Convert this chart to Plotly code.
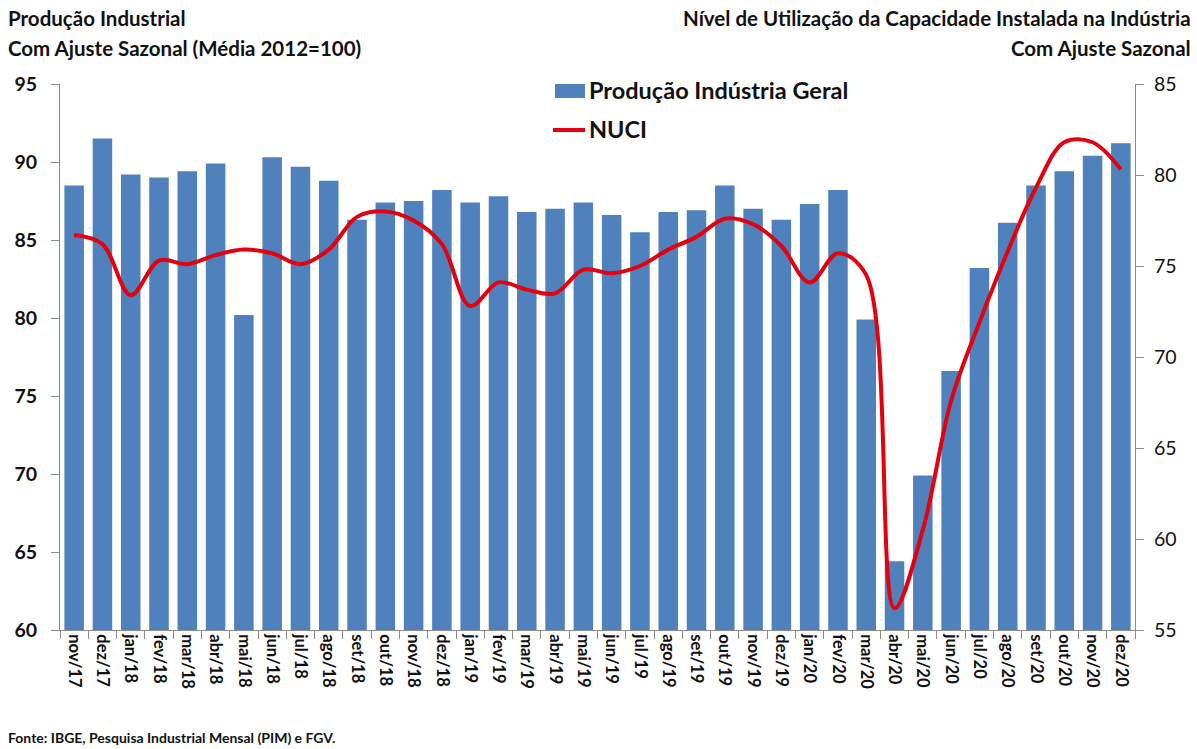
import plotly.graph_objects as go

# Months (Nov/2017 - Dez/2020)
meses = [
    "nov/17", "dez/17",
    "jan/18", "fev/18", "mar/18", "abr/18", "mai/18", "jun/18",
    "jul/18", "ago/18", "set/18", "out/18", "nov/18", "dez/18",
    "jan/19", "fev/19", "mar/19", "abr/19", "mai/19", "jun/19",
    "jul/19", "ago/19", "set/19", "out/19", "nov/19", "dez/19",
    "jan/20", "fev/20", "mar/20", "abr/20", "mai/20", "jun/20",
    "jul/20", "ago/20", "set/20", "out/20", "nov/20", "dez/20",
]

# Produção industrial geral, com ajuste sazonal (média 2012 = 100)
producao = [
    88.5, 91.5,
    89.2, 89.0, 89.4, 89.9, 80.2, 90.3,
    89.7, 88.8, 86.3, 87.4, 87.5, 88.2,
    87.4, 87.8, 86.8, 87.0, 87.4, 86.6,
    85.5, 86.8, 86.9, 88.5, 87.0, 86.3,
    87.3, 88.2, 79.9, 64.4, 69.9, 76.6,
    83.2, 86.1, 88.5, 89.4, 90.4, 91.2,
]

# NUCI - nível de utilização da capacidade instalada (%), com ajuste sazonal
nuci = [
    76.7, 76.2,
    73.4, 75.3, 75.1, 75.6, 75.9, 75.7,
    75.1, 75.9, 77.7, 78.0, 77.5, 76.2,
    72.8, 74.1, 73.7, 73.5, 74.8, 74.6,
    75.0, 75.9, 76.6, 77.6, 77.3, 76.1,
    74.1, 75.7, 74.5, 56.2, 60.5, 67.6,
    71.9, 75.8, 79.3, 81.8, 81.8, 80.3,
]

left_ticks = [60, 65, 70, 75, 80, 85, 90, 95]
right_ticks = [55, 60, 65, 70, 75, 80, 85]

BLUE = "#4F81BD"
RED = "#E3000F"
FONT = "Lato"
AXIS_GRAY = "#8C8C8C"
INK = "#111111"

PLOT_W = 1075
PLOT_H = 546

fig = go.Figure()

fig.add_trace(go.Bar(
    x=meses, y=producao, name="Produção Indústria Geral",
    marker=dict(color=BLUE, line=dict(width=0)),
    yaxis="y",
))

fig.add_trace(go.Scatter(
    x=meses, y=nuci, name="NUCI", mode="lines",
    line=dict(color=RED, width=4, shape="spline", smoothing=1.0),
    yaxis="y2",
))

fig.update_layout(
    width=1197, height=749,
    margin=dict(l=60, r=62, t=84, b=119),
    paper_bgcolor="white", plot_bgcolor="white",
    showlegend=False,
    bargap=0.31,
    font=dict(family=FONT, color=INK),
    xaxis=dict(
        type="category",
        tickangle=90,
        ticks="outside", ticklen=8, tickcolor=AXIS_GRAY,
        tickson="boundaries",
        showline=True, linecolor=AXIS_GRAY, linewidth=1,
        showgrid=False,
        tickfont=dict(family=FONT, size=16.5, color=INK, weight="bold"),
    ),
    yaxis=dict(
        range=[60, 95], tickvals=left_ticks,
        ticks="outside", ticklen=8, tickcolor=AXIS_GRAY,
        ticklabelstandoff=10,
        showline=True, linecolor=AXIS_GRAY, linewidth=1,
        showgrid=False, zeroline=False,
        tickfont=dict(family=FONT, size=19.5, color=INK, weight="bold"),
    ),
    yaxis2=dict(
        range=[55, 85], tickvals=right_ticks,
        overlaying="y", side="right",
        ticks="outside", ticklen=8, tickcolor=AXIS_GRAY,
        ticklabelstandoff=6,
        showline=True, linecolor=AXIS_GRAY, linewidth=1,
        showgrid=False, zeroline=False,
        tickfont=dict(family=FONT, size=19.5, color=INK),
    ),
)

title_font = dict(family=FONT, size=20.5, color=INK, weight="bold")

# Axis titles
fig.add_annotation(xref="paper", yref="paper", x=-54 / PLOT_W, y=1 + 66 / PLOT_H,
                   xanchor="left", yanchor="middle", showarrow=False,
                   text="Produção Industrial", font=title_font)
fig.add_annotation(xref="paper", yref="paper", x=-54 / PLOT_W, y=1 + 36 / PLOT_H,
                   xanchor="left", yanchor="middle", showarrow=False,
                   text="Com Ajuste Sazonal (Média 2012=100)", font=title_font)
fig.add_annotation(xref="paper", yref="paper", x=1 + 58 / PLOT_W, y=1 + 66 / PLOT_H,
                   xanchor="right", yanchor="middle", showarrow=False,
                   text="Nível de Utilização da Capacidade Instalada na Indústria",
                   font=title_font)
fig.add_annotation(xref="paper", yref="paper", x=1 + 58 / PLOT_W, y=1 + 36 / PLOT_H,
                   xanchor="right", yanchor="middle", showarrow=False,
                   text="Com Ajuste Sazonal", font=title_font)

# Legend drawn inside the plot area
legend_font = dict(family=FONT, size=23.5, color=INK, weight="bold")
fig.add_shape(type="rect", xref="paper", yref="paper",
              x0=495 / PLOT_W, x1=525 / PLOT_W, y0=1 - 14 / PLOT_H, y1=1 - 0 / PLOT_H,
              fillcolor=BLUE, line=dict(width=0))
fig.add_annotation(xref="paper", yref="paper", x=527 / PLOT_W, y=1 - 6 / PLOT_H,
                   xanchor="left", yanchor="middle", showarrow=False,
                   text="Produção Indústria Geral", font=legend_font)
fig.add_shape(type="line", xref="paper", yref="paper",
              x0=493 / PLOT_W, x1=525 / PLOT_W, y0=1 - 46 / PLOT_H, y1=1 - 46 / PLOT_H,
              line=dict(color=RED, width=4))
fig.add_annotation(xref="paper", yref="paper", x=527 / PLOT_W, y=1 - 45 / PLOT_H,
                   xanchor="left", yanchor="middle", showarrow=False,
                   text="NUCI", font=legend_font)

# Source note
fig.add_annotation(xref="paper", yref="paper", x=-54 / PLOT_W, y=-107 / PLOT_H,
                   xanchor="left", yanchor="middle", showarrow=False,
                   text="Fonte: IBGE, Pesquisa Industrial Mensal (PIM) e FGV.",
                   font=dict(family=FONT, size=14, color=INK, weight="bold"))

fig.write_html("out.html")
